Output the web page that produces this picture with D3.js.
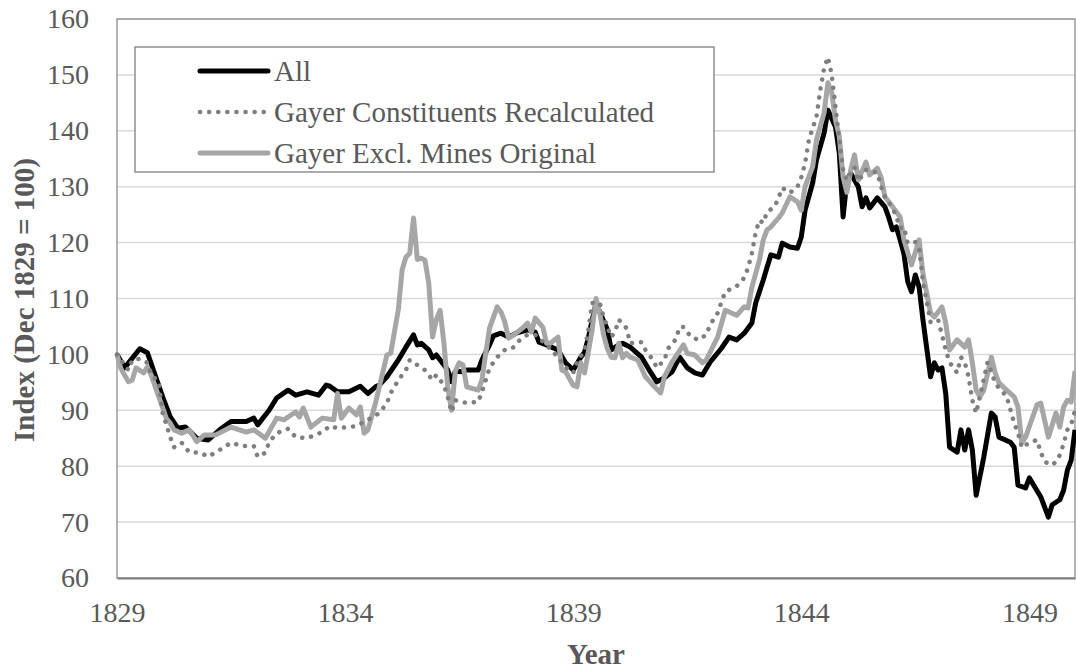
<!DOCTYPE html>
<html><head><meta charset="utf-8">
<script src="https://cdn.jsdelivr.net/npm/d3@7"></script>
<style>body{margin:0;background:#fff;} text{font-family:"Liberation Serif","Times New Roman",serif;fill:#595959;}</style>
</head><body><svg id="c" width="1076" height="671"></svg>
<script>
const seriesNames = ["All", "Gayer Constituents Recalculated", "Gayer Excl. Mines Original"];
const xTickMonths = [0, 60, 120, 180, 240];
const xTickLabels = ["1829", "1834", "1839", "1844", "1849"];
const yTicks = [60, 70, 80, 90, 100, 110, 120, 130, 140, 150, 160];
// [month index counted from Dec 1829, index value]
const allData = [[0,100],[2,97.6],[6,101],[8,100.3],[12,92.4],[14,88.8],[16,86.8],[18,87],[21,85],[24,84.7],[27,86.5],[30,88],[34,88],[36,88.6],[37,87.4],[40,90],[42,92.2],[45,93.6],[47,92.7],[50,93.3],[53,92.7],[55,94.5],[56,94.3],[58,93.3],[61,93.3],[64,94.3],[66,93],[68,94.2],[69,94.5],[71,96],[74,99],[76,101.3],[78,103.5],[79,101.7],[80,102],[82,100.8],[83,99.4],[84,99.9],[85,99],[87,97.2],[88,95.1],[89,97],[91,96.9],[92,97.2],[95,97.2],[96,99],[98,101.7],[99,103.3],[101,103.8],[103,103.1],[105,103.8],[108,104.4],[110,104],[111,102.2],[113,101.7],[116,100.8],[118,98.5],[120,97.2],[122,99.5],[123,100.4],[124,103],[126,109.2],[128,106],[129,104.4],[130,100.8],[132,101.7],[133,102],[135,101.3],[138,99.5],[140,97.2],[142,95.1],[144,95.8],[146,96.9],[148,99.5],[150,97.6],[152,96.7],[154,96.3],[156,98.6],[159,101.1],[161,103.1],[163,102.6],[165,103.8],[167,105.6],[168,109.2],[170,113.3],[171,115.6],[172,117.8],[174,117.4],[175,119.9],[177,119.2],[179,119],[180,121],[181,125.8],[183,130.7],[184,134.8],[186,139.6],[187,143.7],[189,140.7],[190,136],[191,124.6],[192,131.2],[193,132.4],[195,130],[196,126.4],[197,128],[198,126.2],[200,128],[202,126.4],[203,124.5],[204,122.3],[205,122.8],[206,120.5],[207,118],[208,113],[209,111.2],[210,114.2],[211,112],[212,106.2],[214,96],[215,98.5],[216,97.2],[217,97.6],[218,93],[219,83.4],[221,82.5],[222,86.5],[223,82.9],[224,86.5],[225,82.9],[226,74.8],[228,81.6],[230,89.5],[231,88.8],[232,85.2],[235,84.3],[236,83.4],[237,76.6],[239,76.1],[240,77.9],[243,74.5],[245,70.9],[246,73.1],[248,74],[249,75.7],[250,79.3],[251,81.1],[252,86.5]];
const recalcData = [[0,100],[3,97.2],[4,99],[6,99.2],[8,98.5],[9,96.5],[11,94.9],[12,89.5],[13,87.4],[14,85.2],[15,83.4],[17,84.2],[19,82.5],[22,82.4],[24,81.7],[27,82.9],[30,84.2],[33,83.6],[36,83.6],[37,81.7],[39,82.4],[40,84.3],[42,85.9],[45,86.7],[47,85.2],[50,85],[54,86.1],[56,87.2],[58,86.8],[61,87],[63,87.2],[66,88.3],[69,89.5],[71,91.3],[72,93.1],[74,95.4],[76,97.2],[77,99],[79,98.1],[81,97.2],[83,95.4],[84,96.3],[86,94.5],[87,92.4],[88,89.7],[89,91.8],[92,91.3],[95,91.5],[96,93.3],[97,95.4],[98,97.6],[100,99.5],[102,100.8],[104,101.1],[106,102.6],[108,103.5],[110,103.5],[113,101.7],[116,99.5],[118,97.7],[120,96.7],[121,98.6],[123,100.8],[124,104.4],[125,109.2],[127,109.2],[128,106.7],[129,104.9],[130,103.1],[131,104],[132,106.2],[133,105.5],[134,104.7],[135,102],[138,102.2],[139,100.8],[141,99],[142,97.6],[144,99],[145,101.1],[147,102.7],[148,104.9],[149,104.9],[151,103.1],[153,102.6],[155,103.5],[156,105.3],[158,107.4],[159,109.4],[160,111.2],[163,112.2],[165,113.7],[166,115.5],[167,118],[168,121.9],[169,124],[170,123.5],[171,125.5],[173,126.4],[174,128],[175,129.8],[177,128.9],[179,130],[180,131.7],[181,134.2],[182,138.4],[183,140.5],[184,142.5],[185,147.3],[186,151.2],[187,153.2],[188,150],[189,144.3],[190,138.4],[191,133],[192,131.2],[194,133.5],[195,131],[197,133],[200,132.5],[201,130],[202,128.2],[204,126.2],[205,124.6],[206,122.6],[207,122.8],[208,119.9],[210,120.1],[211,119],[212,113],[214,105.8],[216,106.2],[218,100.8],[219,98.6],[221,96.7],[222,99.5],[223,98.6],[224,96],[225,91.8],[226,89.5],[229,98.6],[230,96.9],[231,94.9],[232,94],[234,92.5],[236,87.7],[237,86],[238,83.3],[240,84.2],[242,84.7],[243,82.5],[244,80.8],[246,80.2],[247,80.8],[248,82],[249,84],[250,86.5],[251,87.4],[252,90]];
const exclMinesData = [[0,100],[1,97.5],[3,95.1],[4,95.4],[5,97.6],[7,96.7],[8,97.7],[9,96.3],[11,92.4],[12,90.5],[13,88.5],[14,87.7],[15,86.5],[17,85.9],[19,86.5],[21,84.4],[23,85.6],[26,85.6],[30,87],[34,86.1],[36,86.5],[39,85],[42,88.6],[44,88.3],[45,88.8],[47,89.7],[48,88.8],[49,90.4],[51,87],[54,88.6],[57,88.3],[58,93],[59,88.6],[61,90.4],[63,89.2],[64,90.6],[65,85.9],[66,86.5],[68,91.3],[69,94.2],[71,99.9],[72,100.2],[74,108],[75,115.1],[76,117.4],[77,118.1],[78,124.4],[79,117],[80,117.2],[81,116.9],[82,112.8],[83,103.1],[84,106.2],[85,107.9],[86,102],[87,94.2],[88,90],[89,97],[90,98.5],[91,98.1],[92,94.2],[95,93.6],[96,95.4],[97,100.2],[98,104.7],[100,108.5],[101,107.6],[102,105.8],[103,102.9],[105,103.8],[107,104.9],[108,105.6],[109,104],[110,106.5],[112,104.9],[113,102],[114,102],[116,103.1],[117,97.2],[118,96.9],[120,94.5],[121,94.2],[122,98.5],[123,96.7],[125,104.4],[126,110],[127,107.4],[128,103.5],[129,101],[130,99.5],[131,99.4],[132,102],[133,99.4],[134,100.2],[135,99.5],[137,99],[139,96],[141,94.5],[143,93.1],[144,96],[146,98.6],[149,101.7],[150,100.2],[152,99.9],[154,98.5],[155,99],[158,103.1],[160,107.9],[163,107],[165,108.5],[166,108.3],[167,112],[169,116.9],[170,120.5],[171,122.3],[172,122.8],[174,124.4],[175,125.3],[177,128.2],[179,127.3],[180,125.8],[181,130],[183,133.6],[184,138.4],[186,143.2],[187,148.6],[188,146.8],[189,141.9],[190,139],[191,131.7],[192,129],[193,133],[194,135.7],[195,131.2],[197,134.4],[198,132.1],[200,133.3],[201,131.7],[202,128.2],[204,126.4],[206,124.6],[207,120.5],[209,116],[211,120.5],[212,114.5],[214,107.4],[215,106.7],[217,108.5],[218,105.6],[219,100.8],[221,102.6],[223,101.3],[224,102.6],[225,98.5],[226,93.6],[227,92.4],[228,93.6],[230,99.5],[231,96.7],[232,94.9],[234,93.6],[236,92.4],[237,90.6],[238,84.2],[239,85.2],[242,91],[243,91.3],[245,85.2],[247,89.5],[248,87],[249,90.6],[250,91.8],[251,91.5],[252,97]];

const svg = d3.select("#c");
const L = 117, R = 1075, T = 19, B = 578;
const x = d3.scaleLinear().domain([0, 252]).range([L, R]);
const y = d3.scaleLinear().domain([60, 160]).range([B, T]);

// gridlines
svg.append("g").selectAll("line").data(yTicks.filter(v => v > 60)).join("line")
  .attr("x1", L).attr("x2", R).attr("y1", d => y(d)).attr("y2", d => y(d))
  .attr("stroke", "#d9d9d9").attr("stroke-width", 1.5);

// plot border
svg.append("rect").attr("x", L).attr("y", T).attr("width", R - L).attr("height", B - T)
  .attr("fill", "none").attr("stroke", "#8c8c8c").attr("stroke-width", 1.3);

// y axis labels
const yAxis = d3.axisLeft(y).tickValues(yTicks).tickSize(0).tickPadding(28);
const gy = svg.append("g").attr("transform", `translate(${L},0)`).call(yAxis);
gy.select(".domain").remove();
gy.selectAll("text").style("font-size", "28px").attr("fill", "#595959").attr("font-family", "Liberation Serif");

// x axis
const xAxis = d3.axisBottom(x).tickValues(xTickMonths).tickFormat((d, i) => xTickLabels[i]).tickSize(0).tickPadding(24);
const gx = svg.append("g").attr("transform", `translate(0,${B})`).call(xAxis);
gx.select(".domain").attr("stroke", "#7f7f7f").attr("stroke-width", 2);
gx.selectAll("text").style("font-size", "28px").attr("fill", "#595959").attr("font-family", "Liberation Serif");

// axis titles
svg.append("text").attr("x", (L + R) / 2).attr("y", 664).attr("text-anchor", "middle")
  .style("font-size", "29px").style("font-weight", "bold").text("Year");
svg.append("text").attr("transform", `translate(34,300) rotate(-90)`).attr("text-anchor", "middle")
  .style("font-size", "29px").style("font-weight", "bold").text("Index (Dec 1829 = 100)");

const line = d3.line().x(d => x(d[0])).y(d => y(d[1]));
svg.append("path").datum(allData).attr("d", line).attr("fill", "none")
  .attr("stroke", "#000").attr("stroke-width", 5).attr("stroke-linejoin", "round");
svg.append("path").datum(exclMinesData).attr("d", line).attr("fill", "none")
  .attr("stroke", "#a6a6a6").attr("stroke-width", 5).attr("stroke-linejoin", "round");
svg.append("path").datum(recalcData).attr("d", line).attr("fill", "none")
  .attr("stroke", "#7f7f7f").attr("stroke-width", 4.5).attr("stroke-linecap", "round")
  .attr("stroke-dasharray", "0.1 9");

// legend
const lg = svg.append("g");
lg.append("rect").attr("x", 135).attr("y", 47).attr("width", 579).attr("height", 125)
  .attr("fill", "#fff").attr("stroke", "#7f7f7f").attr("stroke-width", 1.3);
const legendStyles = [
  {c: "#000", w: 5, dash: null},
  {c: "#7f7f7f", w: 4.5, dash: "0.1 9"},
  {c: "#a6a6a6", w: 5, dash: null}
];
const ly = [71, 112, 153];
seriesNames.forEach((n, i) => {
  const s = legendStyles[i];
  const l = lg.append("line").attr("x1", 200).attr("x2", 268).attr("y1", ly[i]).attr("y2", ly[i])
    .attr("stroke", s.c).attr("stroke-width", s.w).attr("stroke-linecap", "round");
  if (s.dash) l.attr("stroke-dasharray", s.dash);
  lg.append("text").attr("x", 274).attr("y", ly[i]).attr("dy", "0.35em")
    .style("font-size", "29px").text(n);
});
</script></body></html>
